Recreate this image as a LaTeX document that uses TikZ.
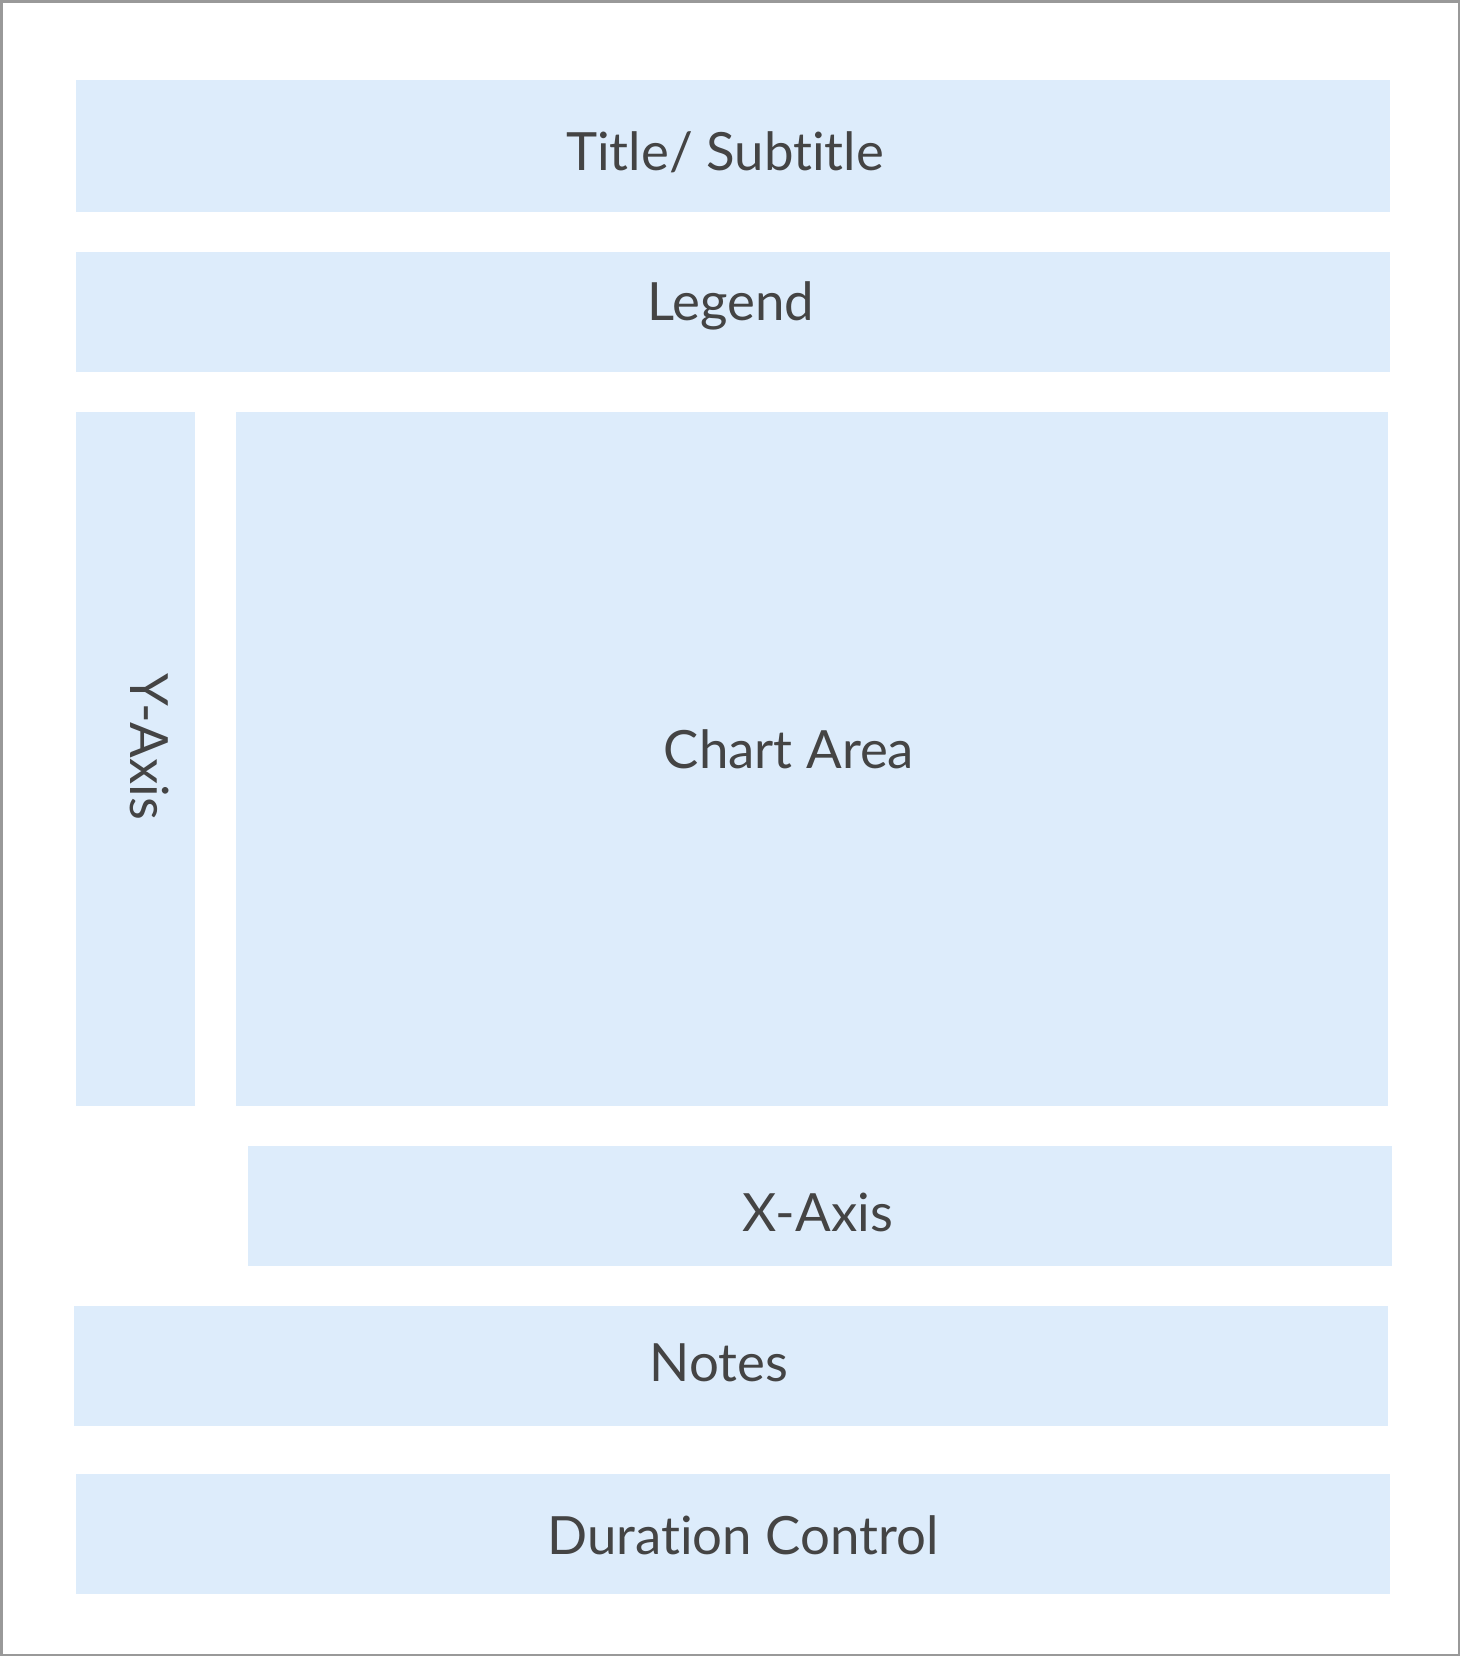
\documentclass[tikz,border=0pt]{standalone}
\usepackage{fontspec}
\setmainfont{Lato}[Ligatures={NoCommon,NoRare}]
\usetikzlibrary{positioning}
\definecolor{PanelFill}{HTML}{DDECFB}
\definecolor{Frame}{HTML}{999999}
\definecolor{Ink}{HTML}{444444}

\begin{document}
\begin{tikzpicture}[x=0.01cm,y=-0.01cm,
      panel/.style={rectangle,draw=none,fill=PanelFill,inner sep=0pt},
      tag/.style={text=Ink,font=\fontsize{15pt}{18pt}\selectfont,
                  anchor=base,inner sep=0pt}]
    \useasboundingbox (0,0) rectangle (1460,1656);
    \draw[Frame,line width=0.025cm] (1.25,1.25) rectangle (1458.75,1654.75);

    % layout blocks
    \foreach \n/\x/\y/\w/\h in {title/733/146/13.14/1.32,
                                legend/733/312/13.14/1.20,
                                yaxis/135.5/759/1.19/6.94,
                                chart/812/759/11.52/6.94,
                                xaxis/820/1206/11.44/1.20,
                                notes/731/1366/13.14/1.20,
                                duration/733/1534/13.14/1.20}{%
      \node[panel,minimum width=\w cm,minimum height=\h cm] (\n) at (\x,\y) {};
    }

    % block labels
    \node[tag] (titletext) at (725,170) {Title/ Subtitle};
    \node[tag] (legendtext) at (731,320) {Legend};
    \node[tag,rotate=-90] (yaxistext) at (130,747) {Y-Axis};
    \node[tag] (charttext) at (789,768) {Chart Area};
    \node[tag] (xaxistext) at (818,1231) {X-Axis};
    \node[tag] (notestext) at (719,1381) {Notes};
    \node[tag] (durationtext) at (743,1554) {Duration Control};
  \end{tikzpicture}
\end{document}
